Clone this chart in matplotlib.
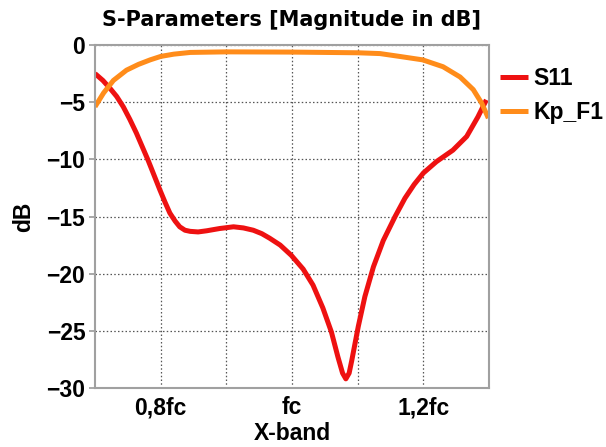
import matplotlib
matplotlib.use("Agg")
import matplotlib.pyplot as plt

# S11 magnitude (dB)
s11_x = [0.700, 0.712, 0.723, 0.733, 0.743, 0.753, 0.763, 0.772, 0.781, 0.790,
         0.799, 0.807, 0.814, 0.822, 0.829, 0.837, 0.845, 0.857, 0.870, 0.890,
         0.911, 0.926, 0.941, 0.954, 0.966, 0.982, 0.999, 1.017, 1.032, 1.047,
         1.060, 1.070, 1.077, 1.082, 1.087, 1.091, 1.101, 1.111, 1.124, 1.139,
         1.157, 1.172, 1.186, 1.200, 1.220, 1.245, 1.266, 1.283, 1.296]
s11_db = [-2.5, -3.1, -3.8, -4.5, -5.4, -6.5, -7.7, -8.9, -10.1, -11.4,
          -12.7, -13.8, -14.7, -15.4, -15.9, -16.2, -16.3, -16.35, -16.25, -16.05,
          -15.9, -16.0, -16.2, -16.5, -16.9, -17.5, -18.4, -19.6, -21.0, -23.0,
          -25.1, -27.3, -28.7, -29.2, -28.7, -27.6, -24.6, -22.0, -19.4, -17.1,
          -15.0, -13.4, -12.2, -11.2, -10.2, -9.2, -8.0, -6.3, -4.8]

# Kp_F1 magnitude (dB)
kp_x = [0.700, 0.713, 0.728, 0.748, 0.766, 0.784, 0.800, 0.820, 0.845, 0.900,
        1.000, 1.100, 1.134, 1.164, 1.199, 1.230, 1.256, 1.276, 1.289, 1.299]
kp_db = [-5.4, -4.2, -3.1, -2.2, -1.7, -1.3, -1.0, -0.8, -0.65, -0.6,
         -0.62, -0.68, -0.75, -1.0, -1.3, -1.9, -2.8, -3.9, -5.1, -6.4]

x_ticks = [0.8, 0.9, 1.0, 1.1, 1.2]
x_labels = ["0,8fc", "", "fc", "", "1,2fc"]
y_ticks = [0, -5, -10, -15, -20, -25, -30]

plt.rcParams["font.family"] = ["Liberation Sans", "DejaVu Sans"]
plt.rcParams["font.weight"] = "bold"

fig = plt.figure(figsize=(6.06, 4.47), dpi=100)
ax = fig.add_axes([95 / 606, 1 - 388 / 447, (489 - 95) / 606, (388 - 45) / 447])

ax.plot(s11_x, s11_db, color="#ee1111", lw=3.6, label="S11",
        solid_joinstyle="round", solid_capstyle="butt")
ax.plot(kp_x, kp_db, color="#ff8c1a", lw=3.6, label="Kp_F1",
        solid_joinstyle="round", solid_capstyle="butt")

ax.set_xlim(0.7, 1.3)
ax.set_ylim(-30, 0)
ax.set_xticks(x_ticks)
ax.set_xticklabels(x_labels)
ax.set_yticks(y_ticks)
ax.grid(True, color="#555555", linestyle=(0, (1.2, 1.8)), linewidth=0.9)
ax.tick_params(axis="x", length=0, pad=6, labelsize=16.5)
ax.tick_params(axis="y", length=4, width=1.2, color="#999999", pad=3, labelsize=16.5)
for sp in ax.spines.values():
    sp.set_color("#a0a0a0")
    sp.set_linewidth(1.5)

ax.set_xlabel("X-band", fontsize=16.5, fontweight="bold", labelpad=2)
ax.set_ylabel("dB", fontsize=16.5, fontweight="bold", labelpad=8)
ax.set_title("S-Parameters [Magnitude in dB]", fontsize=15, fontweight="bold",
             family="DejaVu Sans", pad=14)

leg = ax.legend(loc="upper left", bbox_to_anchor=(1.0, 0.97), frameon=False,
                fontsize=16.5, handlelength=1.2, handletextpad=0.25,
                labelspacing=0.5, borderaxespad=0.1)

fig.savefig("out.png", dpi=100)
